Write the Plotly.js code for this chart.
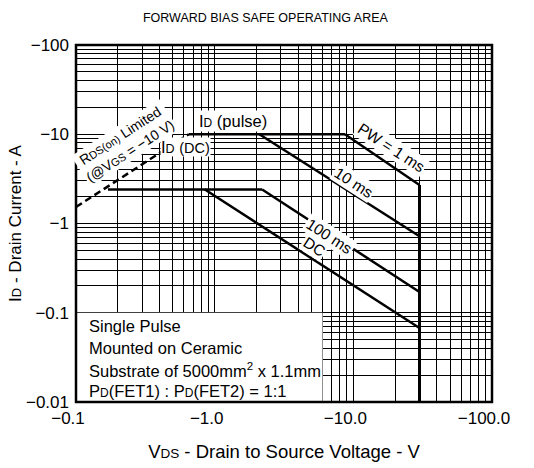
<!DOCTYPE html>
<html><head><meta charset="utf-8">
<script src="https://cdn.plot.ly/plotly-3.0.1.min.js"></script>
<style>body{margin:0;background:#fff}#chart{width:534px;height:468px}</style>
</head><body><div id="chart"></div>
<script>
// Axis ticks (values are negative; plotted by magnitude on log axes)
const xTickVals = [-0.1, -1, -10, -100];
const xTickText = ['\u22120.1', '\u22121.0', '\u221210.0', '\u2212100.0'];
const yTickVals = [-0.01, -0.1, -1, -10, -100];
const yTickText = ['\u22120.01', '\u22120.1', '\u22121', '\u221210', '\u2212100'];

// Curves: VDS (V) and ID (A)
const rdsV = [-0.1, -0.65];      const rdsI = [-1.53, -10];
const pulseV = [-0.65, -8.7];    const pulseI = [-10, -10];
const dcLimV = [-0.17, -2.2];    const dcLimI = [-2.4, -2.4];
const pw1msV = [-8.7, -30];      const pw1msI = [-10, -2.7];
const pw10msV = [-2.1, -30];     const pw10msI = [-10, -0.72];
const pw100msV = [-2.2, -30];    const pw100msI = [-2.4, -0.171];
const dcV = [-0.85, -30];        const dcI = [-2.4, -0.0675];
const vmaxV = [-30, -30];        const vmaxI = [-0.01, -2.7];

const abs = a => a.map(v => Math.abs(v));
function minorGrid(lo, hi) {
  const out = [];
  for (let d = lo; d < hi; d++) for (let k = 2; k <= 9; k++) out.push(k * Math.pow(10, d));
  return out;
}
const FONT = 'Liberation Sans, Arial, sans-serif';
const sm = (t, s) => '<span style="font-size:' + (s || 12) + 'px">' + t + '</span>';

function line(v, i, w, dash) {
  return {x: abs(v), y: abs(i), type: 'scatter', mode: 'lines', hoverinfo: 'skip',
    line: {color: '#000', width: w, dash: dash || 'solid'}, showlegend: false};
}
const traces = [
  line(rdsV, rdsI, 2.5, '7px,4px'),
  line(pulseV, pulseI, 2.5),
  line(dcLimV, dcLimI, 2.5),
  line(pw1msV, pw1msI, 2.5),
  line(pw10msV, pw10msI, 2.5),
  line(pw100msV, pw100msI, 2.5),
  line(dcV, dcI, 2.5),
  line(vmaxV, vmaxI, 3)
];

function ann(text, px, py, angle, size, extra) {
  return Object.assign({text: text, x: px, y: py, xref: 'x', yref: 'y', showarrow: false,
    textangle: angle || 0, bgcolor: '#fff', borderpad: 1,
    font: {family: FONT, size: size || 15, color: '#000'}}, extra || {});
}
const boxText = {xanchor: 'left', bgcolor: 'rgba(0,0,0,0)'};
const annotations = [
  ann('I' + sm('D', 12) + ' (pulse)', 0.135, 1.148, 0, 16.5),
  ann('I' + sm('D', 12.5) + ' ' + sm('(DC)', 14.5), -0.212, 0.857, 0, 16.5, {borderpad: 0}),
  ann('R' + sm('DS(on)', 11) + ' Limited<br>(@V' + sm('GS', 11) + ' = \u221210 V)', -0.645, 0.905, -33, 14),
  ann('PW = 1 ms', 1.271, 0.846, 33, 15.5),
  ann('10 ms', 1.004, 0.465, 33, 15.5),
  ann('100 ms', 0.831, -0.14, 33, 15.5),
  ann('DC', 0.716, -0.263, 33, 15.5),
  ann('Single Pulse', -0.921, -1.148, 0, 16.5, boxText),
  ann('Mounted on Ceramic', -0.921, -1.395, 0, 16.5, boxText),
  ann('Substrate of 5000mm<sup>2</sup> x 1.1mm', -0.921, -1.641, 0, 16.5, boxText),
  ann('P' + sm('D', 12) + '(FET1) : P' + sm('D', 12) + '(FET2) = 1:1', -0.921, -1.877, 0, 16.5, boxText)
];

const axisCommon = {
  type: 'log', showgrid: true, gridcolor: '#000', gridwidth: 1, zeroline: false,
  showline: false, ticks: '', tickmode: 'array',
  tickfont: {family: FONT, size: 17, color: '#000'}
};
const layout = {
  width: 534, height: 468,
  margin: {l: 76, r: 42, t: 45, b: 66},
  paper_bgcolor: '#fff', plot_bgcolor: '#fff',
  title: {text: 'FORWARD BIAS SAFE OPERATING AREA', x: 0.497, xanchor: 'center', y: 0.963, yanchor: 'middle',
    font: {family: FONT, size: 12.5, color: '#000'}},
  xaxis: Object.assign({}, axisCommon, {
    range: [-1, 2], tickvals: abs(xTickVals), ticktext: xTickText, ticklabelstandoff: 4, ticklabelshift: -8,
    minor: {tickmode: 'array', tickvals: minorGrid(-1, 2), showgrid: true, gridcolor: '#000', gridwidth: 1, ticks: ''},
    title: {text: 'V' + sm('DS', 13.5) + ' - Drain to Source Voltage - V', standoff: 18,
      font: {family: FONT, size: 18.5, color: '#000'}}
  }),
  yaxis: Object.assign({}, axisCommon, {
    range: [-2, 2], tickvals: abs(yTickVals), ticktext: yTickText, ticklabelstandoff: 6,
    minor: {tickmode: 'array', tickvals: minorGrid(-2, 2), showgrid: true, gridcolor: '#000', gridwidth: 1, ticks: ''},
    title: {text: 'I' + sm('D', 13) + ' - Drain Current - A', standoff: 0,
      font: {family: FONT, size: 17, color: '#000'}}
  }),
  shapes: [
    // white panel behind the conditions note (data coordinates on log axes)
    {type: 'rect', xref: 'x', yref: 'y', x0: 0.1, x1: 6, y0: 0.01, y1: 0.1,
      fillcolor: '#fff', line: {width: 0}, layer: 'above'},
    {type: 'rect', xref: 'paper', yref: 'paper', x0: 0, x1: 1, y0: 0, y1: 1,
      line: {color: '#000', width: 2.5}, layer: 'above'}
  ],
  annotations: annotations
};
Plotly.newPlot('chart', traces, layout, {displayModeBar: false, staticPlot: true});
</script>
</body></html>
